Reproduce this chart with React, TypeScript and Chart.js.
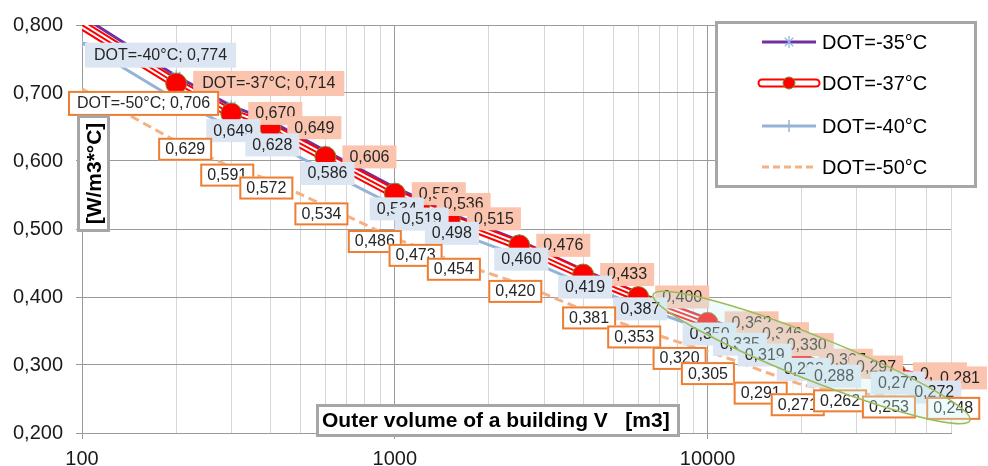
import React, { useEffect, useRef } from 'react';
import { Chart, registerables } from 'chart.js';

Chart.register(...registerables);

const FONT = "'Liberation Sans', Arial, Helvetica, sans-serif";

// ---------- data ----------
const volumes = [100, 200, 300, 400, 600, 1000, 1200, 1500, 2500, 4000, 6000, 10000, 12500, 15000, 20000, 25000, 40000, 50000];
const dot35 = [0.813, 0.725, 0.681, 0.659, 0.615, 0.561, 0.545, 0.523, 0.483, 0.44, 0.406, 0.368, 0.352, 0.335, 0.313, 0.302, 0.292, 0.286];
const dot37 = [0.8, 0.714, 0.67, 0.649, 0.606, 0.552, 0.536, 0.515, 0.476, 0.433, 0.4, 0.362, 0.346, 0.33, 0.307, 0.297, 0.287, 0.281];
const dot40 = [0.774, 0.69, 0.649, 0.628, 0.586, 0.534, 0.519, 0.498, 0.46, 0.419, 0.387, 0.35, 0.335, 0.319, 0.298, 0.288, 0.278, 0.272];
const dot50 = [0.706, 0.629, 0.591, 0.572, 0.534, 0.486, 0.473, 0.454, 0.42, 0.381, 0.353, 0.32, 0.305, 0.291, 0.271, 0.262, 0.253, 0.248];
const seriesNames = ['DOT=-35°C', 'DOT=-37°C', 'DOT=-40°C', 'DOT=-50°C'];
const xGridValues = [100, 200, 300, 400, 500, 600, 700, 800, 900, 1000, 2000, 3000, 4000, 5000, 6000, 7000, 8000, 9000, 10000, 20000, 30000, 40000, 50000, 60000];
const xLabelValues = [100, 1000, 10000];
const xMin = 100;
const xMax = 60000;
const yMin = 0.2;
const yMax = 0.8;
const yStep = 0.1;
const xTitle = 'Outer volume of a building V   [m3]';
const yTitle = '[W/m3*°C]';
// highlighted region (ellipse) given by its two tips in data space
const ellipseTips = [{ x: 6700, y: 0.4035 }, { x: 69000, y: 0.2185 }];

// ---------- styles ----------
const C35 = '#7030A0';
const C35M = '#8DB4E2';
const C37 = '#FF0000';
const C40 = '#95B3D7';
const C50 = '#F4B183';
const GRID_MAJOR = '#9A9A9A';
const GRID_MINOR = '#D6D6D6';

const fmt = (v: number) => v.toFixed(3).replace('.', ',');
const pts = (vals: number[]) => volumes.map((x, i) => ({ x, y: vals[i] }));
const isDecade = (v: number) => xLabelValues.includes(v) || Math.abs(Math.log10(v) % 1) < 1e-9;

type Spec = {
  ds: number; values: number[]; name: string; prefixAt: number; skip: number[];
  fill: string; stroke: string; mode: 'right' | 'center'; dx: number; dy: number;
  first?: number[]; tweaks: Record<number, number[]>;
};

const labelSpecs: Spec[] = [
  { ds: 3, values: dot37, name: seriesNames[1], prefixAt: 1, skip: [0], fill: '#FBC4AE', stroke: '', mode: 'right', dx: 17, dy: 0, tweaks: {} },
  { ds: 4, values: dot40, name: seriesNames[2], prefixAt: 0, skip: [], fill: '#DCE6F2', stroke: '', mode: 'center', dx: 2, dy: 3, first: [3, 0], tweaks: { 17: [8, 8] } },
  {
    ds: 5, values: dot50, name: seriesNames[3], prefixAt: 0, skip: [], fill: '#FFFFFF', stroke: '#ED7D31', mode: 'center', dx: -4, dy: 8, first: [-14, 2],
    tweaks: { 1: [9, 8], 5: [-20, 3], 7: [4, 9], 9: [6, 8], 11: [-28, 7], 12: [-30, 12], 13: [-2, 22], 14: [-4, 20], 15: [8, 10], 16: [-7, 10], 17: [27, 8] },
  },
];

const labelPlugin = {
  id: 'labelsAndEllipse',
  afterDatasetsDraw(chart: any) {
    const ctx = chart.ctx as CanvasRenderingContext2D;
    ctx.save();
    ctx.font = `16px ${FONT}`;
    for (const s of labelSpecs) {
      const meta = chart.getDatasetMeta(s.ds);
      s.values.forEach((v, i) => {
        if (s.skip.includes(i)) return;
        const el = meta.data[i];
        if (!el) return;
        const px = el.x;
        const py = el.y;
        const text = (i === s.prefixAt ? s.name + '; ' : '') + fmt(v);
        const w = ctx.measureText(text).width + (i === s.prefixAt ? 18 : 14);
        const h = i === s.prefixAt ? 25 : 23;
        let left: number;
        let top: number;
        if (i === s.prefixAt && s.first) {
          left = px + s.first[0];
          top = py + s.first[1];
        } else if (s.mode === 'right') {
          left = px + s.dx;
          top = py + s.dy - h / 2;
        } else {
          const t = s.tweaks[i] || [s.dx, s.dy];
          left = px + t[0] - w / 2;
          top = py + t[1] - h / 2;
        }
        left = Math.min(left, chart.width - 1 - w);
        ctx.fillStyle = s.fill;
        ctx.fillRect(left, top, w, h);
        if (s.stroke) {
          ctx.strokeStyle = s.stroke;
          ctx.lineWidth = 2;
          ctx.strokeRect(left + 1, top + 1, w - 2, h - 2);
        }
        ctx.fillStyle = '#262626';
        ctx.textAlign = 'center';
        ctx.textBaseline = 'middle';
        ctx.fillText(text, left + w / 2, top + h / 2 + 0.5);
      });
    }
    // ellipse highlight
    const xs = chart.scales.x;
    const ys = chart.scales.y;
    const a = { x: xs.getPixelForValue(ellipseTips[0].x), y: ys.getPixelForValue(ellipseTips[0].y) };
    const b = { x: xs.getPixelForValue(ellipseTips[1].x), y: ys.getPixelForValue(ellipseTips[1].y) };
    const cx = (a.x + b.x) / 2;
    const cy = (a.y + b.y) / 2;
    const len = Math.hypot(b.x - a.x, b.y - a.y);
    const ang = Math.atan2(b.y - a.y, b.x - a.x);
    ctx.translate(cx, cy);
    ctx.rotate(ang);
    ctx.beginPath();
    ctx.ellipse(0, 0, len / 2, 22, 0, 0, Math.PI * 2);
    ctx.fillStyle = 'rgba(205,240,240,0.32)';
    ctx.fill();
    ctx.strokeStyle = '#9BBB59';
    ctx.lineWidth = 1.5;
    ctx.stroke();
    ctx.restore();
  },
  afterDraw(chart: any) {
    const ctx = chart.ctx as CanvasRenderingContext2D;
    ctx.save();
    // x title
    ctx.fillStyle = '#FFFFFF';
    ctx.fillRect(317, 405, 362, 31);
    ctx.strokeStyle = '#A6A6A6';
    ctx.lineWidth = 3;
    ctx.strokeRect(317.5, 405.5, 361, 30);
    ctx.fillStyle = '#000000';
    ctx.font = `bold 21px ${FONT}`;
    ctx.textAlign = 'left';
    ctx.textBaseline = 'middle';
    ctx.fillText(xTitle, 322, 421);
    // y title
    ctx.fillStyle = '#FFFFFF';
    ctx.fillRect(78, 116, 31, 115);
    ctx.strokeRect(78.5, 116.5, 30, 114);
    ctx.save();
    ctx.translate(94, 173.5);
    ctx.rotate(-Math.PI / 2);
    ctx.fillStyle = '#000000';
    ctx.textAlign = 'center';
    ctx.fillText(yTitle, 0, 1);
    ctx.restore();
    // legend
    ctx.fillStyle = '#FFFFFF';
    ctx.fillRect(716, 22, 260, 165);
    ctx.strokeStyle = '#A6A6A6';
    ctx.lineWidth = 3;
    ctx.strokeRect(716.5, 22.5, 259, 164);
    const rows = [42, 83, 126, 167];
    const x0 = 762;
    const x1 = 816;
    const xm = (x0 + x1) / 2;
    // -35
    ctx.setLineDash([]);
    ctx.lineCap = 'butt';
    ctx.strokeStyle = C35;
    ctx.lineWidth = 3;
    ctx.beginPath(); ctx.moveTo(x0, rows[0]); ctx.lineTo(x1, rows[0]); ctx.stroke();
    ctx.strokeStyle = C35M;
    ctx.lineWidth = 1.2;
    ctx.beginPath();
    for (const t of [Math.PI / 2, Math.PI / 4, -Math.PI / 4]) {
      ctx.moveTo(xm - 6 * Math.cos(t), rows[0] - 6 * Math.sin(t));
      ctx.lineTo(xm + 6 * Math.cos(t), rows[0] + 6 * Math.sin(t));
    }
    ctx.stroke();
    // -37
    ctx.lineCap = 'round';
    ctx.strokeStyle = C37;
    ctx.lineWidth = 9;
    ctx.beginPath(); ctx.moveTo(x0, rows[1]); ctx.lineTo(x1, rows[1]); ctx.stroke();
    ctx.strokeStyle = '#FFFFFF';
    ctx.lineWidth = 5;
    ctx.beginPath(); ctx.moveTo(x0, rows[1]); ctx.lineTo(x1, rows[1]); ctx.stroke();
    ctx.beginPath(); ctx.arc(xm, rows[1], 6, 0, Math.PI * 2);
    ctx.fillStyle = C37; ctx.fill();
    ctx.strokeStyle = '#77933C'; ctx.lineWidth = 1; ctx.stroke();
    // -40
    ctx.lineCap = 'butt';
    ctx.strokeStyle = C40;
    ctx.lineWidth = 3;
    ctx.beginPath(); ctx.moveTo(x0, rows[2]); ctx.lineTo(x1, rows[2]); ctx.stroke();
    ctx.lineWidth = 1.5;
    ctx.beginPath(); ctx.moveTo(xm, rows[2] - 6); ctx.lineTo(xm, rows[2] + 6); ctx.stroke();
    // -50
    ctx.strokeStyle = C50;
    ctx.lineWidth = 3;
    ctx.setLineDash([7, 4]);
    ctx.beginPath(); ctx.moveTo(x0, rows[3]); ctx.lineTo(x1, rows[3]); ctx.stroke();
    ctx.setLineDash([]);
    // texts
    ctx.fillStyle = '#000000';
    ctx.font = `20px ${FONT}`;
    ctx.textAlign = 'left';
    ctx.textBaseline = 'middle';
    seriesNames.forEach((n, i) => ctx.fillText(n, 822, rows[i] + 1));
    ctx.restore();
  },
};

export default function App() {
  const ref = useRef<HTMLCanvasElement>(null);
  useEffect(() => {
    if (!ref.current) return;
    const common = { tension: 0, fill: false, spanGaps: true };
    const chart = new Chart(ref.current, {
      type: 'line',
      data: {
        datasets: [
          {
            ...common, label: seriesNames[0], data: pts(dot35), borderColor: C35, borderWidth: 3,
            pointStyle: 'star', pointRadius: 6, pointBorderColor: C35M, pointBackgroundColor: C35M, pointBorderWidth: 1.2, order: 6,
          },
          { ...common, label: seriesNames[1], data: pts(dot37), borderColor: C37, borderWidth: 10, borderJoinStyle: 'round', pointRadius: 0, order: 5 },
          { ...common, label: seriesNames[1], data: pts(dot37), borderColor: '#FFFFFF', borderWidth: 6, borderJoinStyle: 'round', pointRadius: 0, order: 4 },
          {
            ...common, label: seriesNames[1], data: pts(dot37), borderColor: C37, borderWidth: 2, borderJoinStyle: 'round',
            pointStyle: 'circle', pointRadius: (c: any) => (c.dataIndex === 0 ? 0 : 10.5),
            pointBackgroundColor: C37, pointBorderColor: '#77933C', pointBorderWidth: 1, order: 3,
          },
          {
            ...common, label: seriesNames[2], data: pts(dot40), borderColor: C40, borderWidth: 3,
            pointStyle: 'cross', pointRadius: 5, pointBorderColor: C40, pointBorderWidth: 1.5, order: 2,
          },
          { ...common, label: seriesNames[3], data: pts(dot50), borderColor: C50, borderWidth: 3, borderDash: [9, 5], pointRadius: 0, order: 1 },
        ] as any,
      },
      options: {
        responsive: false,
        animation: false,
        devicePixelRatio: 1,
        events: [],
        layout: { padding: { top: 20, right: 37, left: 0, bottom: 0 } },
        plugins: { legend: { display: false }, tooltip: { enabled: false }, title: { display: false } },
        scales: {
          x: {
            type: 'logarithmic',
            min: xMin,
            max: xMax,
            afterBuildTicks: (s: any) => { s.ticks = xGridValues.map((v) => ({ value: v })); },
            afterFit: (s: any) => { s.height = 33; },
            ticks: {
              autoSkip: false, maxRotation: 0, minRotation: 0, padding: 8, color: '#1a1a1a',
              font: { family: FONT, size: 20 },
              callback: (v: any) => (xLabelValues.includes(Number(v)) ? String(v) : ''),
            },
            grid: {
              color: (c: any) => (c.tick && isDecade(c.tick.value) ? GRID_MAJOR : GRID_MINOR),
              tickColor: (c: any) => (c.tick && isDecade(c.tick.value) ? GRID_MAJOR : 'rgba(0,0,0,0)'),
              tickLength: 6,
              lineWidth: 1,
            },
            border: { color: GRID_MAJOR, width: 1 },
          },
          y: {
            type: 'linear',
            min: yMin,
            max: yMax,
            afterFit: (s: any) => { s.width = 82; },
            ticks: {
              stepSize: yStep, padding: 13, color: '#1a1a1a',
              font: { family: FONT, size: 20 },
              callback: (v: any) => fmt(Number(v)),
            },
            grid: { color: GRID_MAJOR, tickColor: GRID_MAJOR, tickLength: 6, lineWidth: 1 },
            border: { color: GRID_MAJOR, width: 1 },
          },
        },
      } as any,
      plugins: [labelPlugin],
    });
    return () => chart.destroy();
  }, []);
  return (
    <div style={{ position: 'absolute', left: 0, top: 0, width: 988, height: 466, background: '#FFFFFF' }}>
      <canvas ref={ref} width={988} height={466} style={{ display: 'block', width: 988, height: 466 }} />
    </div>
  );
}
